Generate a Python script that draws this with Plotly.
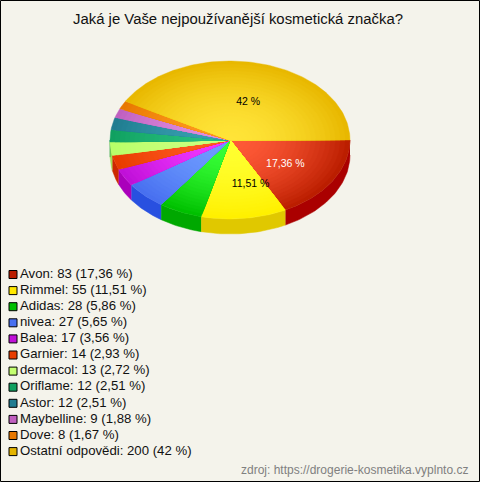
import numpy as np
import plotly.graph_objects as go

brands = ["Avon", "Rimmel", "Adidas", "nivea", "Balea", "Garnier", "dermacol",
          "Oriflame", "Astor", "Maybelline", "Dove", "Ostatní odpovědi"]
counts = [83, 55, 28, 27, 17, 14, 13, 12, 12, 9, 8, 200]
percent_text = ["17,36", "11,51", "5,86", "5,65", "3,56", "2,93", "2,72",
                "2,51", "2,51", "1,88", "1,67", "42"]

color_center = ["#ff5a38", "#ffff30", "#38ff38", "#6e9cff", "#f038ff", "#ff5a22",
                "#ccff80", "#28c080", "#38a0b0", "#e090e0", "#ff9a20", "#ffe438"]
color_edge = ["#bb1e00", "#fff000", "#00c000", "#4870f0", "#c010d8", "#e83c00",
              "#b8ff68", "#10a060", "#207c90", "#c060c0", "#e87800", "#e8b800"]
color_side = ["#aa0000", "#e0c800", "#00a800", "#2850e0", "#aa00bb", "#cc2800",
              "#a0e050", "#008850", "#106070", "#a040a0", "#cc6600", "#c89c00"]
color_legend = ["#bb1e00", "#ffe800", "#00c000", "#4870f0", "#c010d8", "#e83c00",
                "#c4ff70", "#10a060", "#207c90", "#c060c0", "#e87800", "#e4b400"]
labelled = {0: ("white", 1), 1: ("black", 13), 11: ("black", 2)}

CX, CY, RX, RY, DEPTH = 230, 140, 120, 79, 15
BG = "#f4f3eb"


def hex_rgb(h):
    return np.array([int(h[i:i + 2], 16) for i in (1, 3, 5)], dtype=float)


def mix(a, b, f):
    c = hex_rgb(a) * (1 - f) + hex_rgb(b) * f
    return "rgb(%d,%d,%d)" % tuple(c.round())


def arc(t0, t1, scale=1.0, dy=0.0):
    n = max(2, int((t1 - t0) / 0.02))
    t = np.linspace(t0, t1, n)
    return CX + scale * RX * np.cos(t), CY + dy + scale * RY * np.sin(t)


fractions = np.array(counts, dtype=float) / sum(counts)
ends = np.cumsum(fractions) * 2 * np.pi
starts = np.concatenate([[0], ends[:-1]])

fig = go.Figure()

# Side wall (front half only)
for i in range(len(counts)):
    a, b = starts[i], min(ends[i], np.pi)
    if a >= np.pi:
        continue
    x1, y1 = arc(a, b)
    x2, y2 = arc(a, b, dy=DEPTH)
    fig.add_trace(go.Scatter(
        x=np.concatenate([x1, x2[::-1]]), y=np.concatenate([y1, y2[::-1]]),
        mode="lines", fill="toself", fillcolor=color_side[i],
        line=dict(width=0.5, color=color_side[i]), hoverinfo="skip", showlegend=False))

# Top surface with stepped radial gradient
scales = np.linspace(1.0, 0.06, 24)
for i in range(len(counts)):
    for s in scales:
        x, y = arc(starts[i], ends[i], s)
        f = s ** 1.8
        col = mix(color_center[i], color_edge[i], f)
        fig.add_trace(go.Scatter(
            x=np.concatenate([[CX], x, [CX]]), y=np.concatenate([[CY], y, [CY]]),
            mode="lines", fill="toself", fillcolor=col,
            line=dict(width=0.4, color=col),
            hoverinfo="skip", showlegend=False))

# Slice labels
for i, (col, dx) in labelled.items():
    mid = (starts[i] + ends[i]) / 2
    fig.add_trace(go.Scatter(
        x=[CX + 0.53 * RX * np.cos(mid) + dx], y=[CY + 0.53 * RY * np.sin(mid) + 3],
        mode="text", text=[percent_text[i] + " %"], textposition="middle center",
        textfont=dict(family="Liberation Sans", size=10.5, color=col),
        hoverinfo="skip", showlegend=False))

# Legend
legend_y = [274.5 + 16.1 * k for k in range(len(brands))]
fig.add_trace(go.Scatter(
    x=[13] * len(brands), y=legend_y, mode="markers",
    marker=dict(symbol="square", size=8, color=color_legend,
                line=dict(color="black", width=1)),
    hoverinfo="skip", showlegend=False))
fig.add_trace(go.Scatter(
    x=[20] * len(brands), y=legend_y, mode="text",
    text=[f"{b}: {c} ({p} %)" for b, c, p in zip(brands, counts, percent_text)],
    textposition="middle right",
    textfont=dict(family="Liberation Sans", size=13.2, color="#111111"),
    hoverinfo="skip", showlegend=False))

fig.add_annotation(x=237.5, y=19, xref="x", yref="y", showarrow=False,
                   text="Jaká je Vaše nejpoužívanější kosmetická značka?",
                   font=dict(family="Liberation Sans", size=14.9, color="#111111"))
fig.add_annotation(x=470, y=470, xref="x", yref="y", showarrow=False, xanchor="right",
                   text="zdroj: https://drogerie-kosmetika.vyplnto.cz",
                   font=dict(family="Liberation Sans", size=12, color="#808080"))

fig.add_shape(type="rect", x0=0.5, y0=0.5, x1=479.5, y1=481.5, xref="x", yref="y",
              line=dict(color="black", width=1), fillcolor="rgba(0,0,0,0)")

fig.update_layout(
    width=480, height=482, margin=dict(l=0, r=0, t=0, b=0),
    paper_bgcolor=BG, plot_bgcolor=BG, showlegend=False,
    xaxis=dict(range=[0, 480], visible=False, fixedrange=True),
    yaxis=dict(range=[482, 0], visible=False, fixedrange=True),
)
fig.write_html("out.html", config={"displayModeBar": False},
               post_script="document.body.style.margin='0';document.body.style.overflow='hidden';")
